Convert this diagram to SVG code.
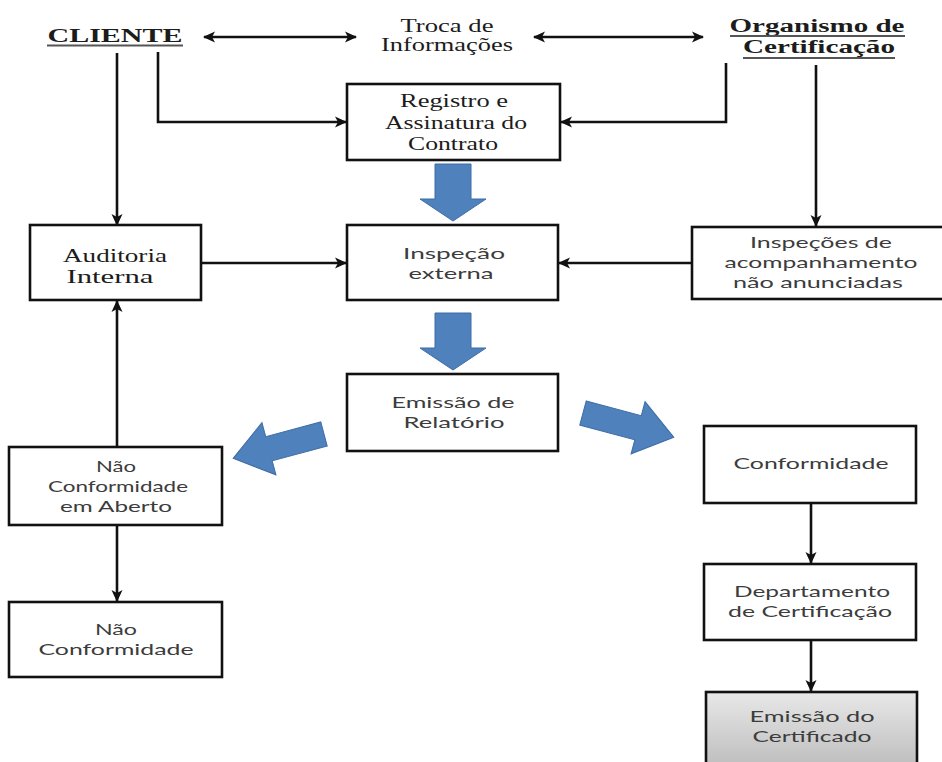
<svg xmlns="http://www.w3.org/2000/svg" width="942" height="762" viewBox="0 0 942 762">
<defs>
  <marker id="ah" viewBox="0 0 12 12" refX="11" refY="6" markerWidth="12" markerHeight="12" markerUnits="userSpaceOnUse" orient="auto-start-reverse">
    <path d="M0,0.5 L12,6 L0,11.5 L3,6 Z" fill="#111"/>
  </marker>
  <linearGradient id="gray" x1="0" y1="0" x2="0" y2="1">
    <stop offset="0" stop-color="#e8e8e8"/>
    <stop offset="1" stop-color="#bdbdbd"/>
  </linearGradient>
  <path id="blk" d="M0,-12.5 L57,-12.5 L57,-27 L94,0 L57,27 L57,12.5 L0,12.5 Z"/>
  <path id="vblk" d="M-18,0 L18,0 L18,35 L33,35 L0,57 L-33,35 L-18,35 Z"/>
</defs>
<style>
  .box{fill:#fff;stroke:#111;stroke-width:2.6}
  .con{fill:none;stroke:#111;stroke-width:2.6}
  .ser{font-family:"Liberation Serif","Times New Roman",serif;font-size:19px;fill:#1c1c1c;text-anchor:middle}
  .hd{font-family:"Liberation Serif","Times New Roman",serif;font-size:18px;font-weight:bold;fill:#1c1c1c;text-anchor:middle}
  .san{font-family:Lato,"Liberation Sans",sans-serif;font-size:15px;fill:#3c3c3c;text-anchor:middle}
  .ul{stroke:#555;stroke-width:2}
  .blue{fill:#4f81bd;stroke:#3d6ca6;stroke-width:1}
</style>
<rect width="942" height="762" fill="#fff"/>

<g id="connectors">
  <line class="con" x1="204" y1="37" x2="356" y2="37" marker-start="url(#ah)" marker-end="url(#ah)"/>
  <line class="con" x1="534" y1="37" x2="703" y2="37" marker-start="url(#ah)" marker-end="url(#ah)"/>
  <line class="con" x1="117" y1="53" x2="117" y2="225" marker-end="url(#ah)"/>
  <path class="con" d="M158,52 V122 H346" marker-end="url(#ah)"/>
  <path class="con" d="M726,63 V122 H561" marker-end="url(#ah)"/>
  <line class="con" x1="816" y1="65" x2="816" y2="226" marker-end="url(#ah)"/>
  <line class="con" x1="201" y1="263" x2="346" y2="263" marker-end="url(#ah)"/>
  <line class="con" x1="692" y1="263" x2="559" y2="263" marker-end="url(#ah)"/>
  <line class="con" x1="117" y1="447" x2="117" y2="301" marker-end="url(#ah)"/>
  <line class="con" x1="117" y1="525" x2="117" y2="601" marker-end="url(#ah)"/>
  <line class="con" x1="811" y1="503" x2="811" y2="563" marker-end="url(#ah)"/>
  <line class="con" x1="811" y1="640" x2="811" y2="691" marker-end="url(#ah)"/>
  <use href="#vblk" class="blue" transform="translate(453,164)"/>
  <use href="#vblk" class="blue" transform="translate(453,313)"/>
  <use href="#blk" class="blue" transform="translate(324,434) rotate(165)"/>
  <use href="#blk" class="blue" transform="translate(583,413) rotate(15)"/>
</g>

<g id="cliente">
  <text class="hd" x="115" y="42" textLength="135" lengthAdjust="spacingAndGlyphs">CLIENTE</text>
  <line class="ul" x1="47" y1="45.5" x2="183" y2="45.5"/>
</g>
<g id="troca">
  <text class="ser" x="447" y="32" textLength="93" lengthAdjust="spacingAndGlyphs">Troca de</text>
  <text class="ser" x="447" y="51" textLength="132" lengthAdjust="spacingAndGlyphs">Informações</text>
</g>
<g id="organismo">
  <text class="hd" x="817" y="32" textLength="175" lengthAdjust="spacingAndGlyphs">Organismo de</text>
  <line class="ul" x1="730" y1="36" x2="905" y2="36"/>
  <text class="hd" x="819" y="53" textLength="152" lengthAdjust="spacingAndGlyphs">Certificação</text>
  <line class="ul" x1="743" y1="58" x2="895" y2="58"/>
</g>
<g id="registro">
  <rect class="box" x="347" y="84" width="213" height="76"/>
  <text class="ser" x="454" y="107" textLength="108" lengthAdjust="spacingAndGlyphs">Registro e</text>
  <text class="ser" x="456" y="128.5" textLength="142" lengthAdjust="spacingAndGlyphs">Assinatura do</text>
  <text class="ser" x="453" y="150" textLength="90" lengthAdjust="spacingAndGlyphs">Contrato</text>
</g>
<g id="auditoria">
  <rect class="box" x="30" y="225" width="171" height="75"/>
  <text class="ser" x="115" y="262" textLength="104" lengthAdjust="spacingAndGlyphs">Auditoria</text>
  <text class="ser" x="110" y="283" textLength="87" lengthAdjust="spacingAndGlyphs">Interna</text>
</g>
<g id="inspecao">
  <rect class="box" x="347" y="225" width="211" height="75"/>
  <text class="san" x="454" y="259" textLength="102" lengthAdjust="spacingAndGlyphs">Inspeção</text>
  <text class="san" x="451" y="279" textLength="85" lengthAdjust="spacingAndGlyphs">externa</text>
</g>
<g id="inspecoes">
  <rect class="box" x="692" y="227" width="258" height="72"/>
  <text class="san" x="821" y="248" textLength="142" lengthAdjust="spacingAndGlyphs">Inspeções de</text>
  <text class="san" x="821" y="268" textLength="193" lengthAdjust="spacingAndGlyphs">acompanhamento</text>
  <text class="san" x="818" y="288" textLength="170" lengthAdjust="spacingAndGlyphs">não anunciadas</text>
</g>
<g id="relatorio">
  <rect class="box" x="347" y="374" width="211" height="77"/>
  <text class="san" x="453" y="408" textLength="123" lengthAdjust="spacingAndGlyphs">Emissão de</text>
  <text class="san" x="454" y="428" textLength="101" lengthAdjust="spacingAndGlyphs">Relatório</text>
</g>
<g id="nc-aberto">
  <rect class="box" x="9" y="447" width="213" height="78"/>
  <text class="san" x="116" y="472" textLength="40" lengthAdjust="spacingAndGlyphs">Não</text>
  <text class="san" x="118" y="492" textLength="140" lengthAdjust="spacingAndGlyphs">Conformidade</text>
  <text class="san" x="116" y="512" textLength="112" lengthAdjust="spacingAndGlyphs">em Aberto</text>
</g>
<g id="conformidade">
  <rect class="box" x="704" y="426" width="212" height="77"/>
  <text class="san" x="811" y="469" textLength="155" lengthAdjust="spacingAndGlyphs">Conformidade</text>
</g>
<g id="nc">
  <rect class="box" x="9" y="602" width="213" height="75"/>
  <text class="san" x="116" y="635" textLength="42" lengthAdjust="spacingAndGlyphs">Não</text>
  <text class="san" x="116" y="655" textLength="155" lengthAdjust="spacingAndGlyphs">Conformidade</text>
</g>
<g id="departamento">
  <rect class="box" x="704" y="564" width="212" height="76"/>
  <text class="san" x="812" y="597" textLength="156" lengthAdjust="spacingAndGlyphs">Departamento</text>
  <text class="san" x="810" y="617" textLength="164" lengthAdjust="spacingAndGlyphs">de Certificação</text>
</g>
<g id="certificado">
  <rect class="box" x="706" y="692" width="211" height="76" style="fill:url(#gray)"/>
  <text class="san" x="812" y="722" textLength="125" lengthAdjust="spacingAndGlyphs">Emissão do</text>
  <text class="san" x="812" y="742" textLength="119" lengthAdjust="spacingAndGlyphs">Certificado</text>
</g>
</svg>
